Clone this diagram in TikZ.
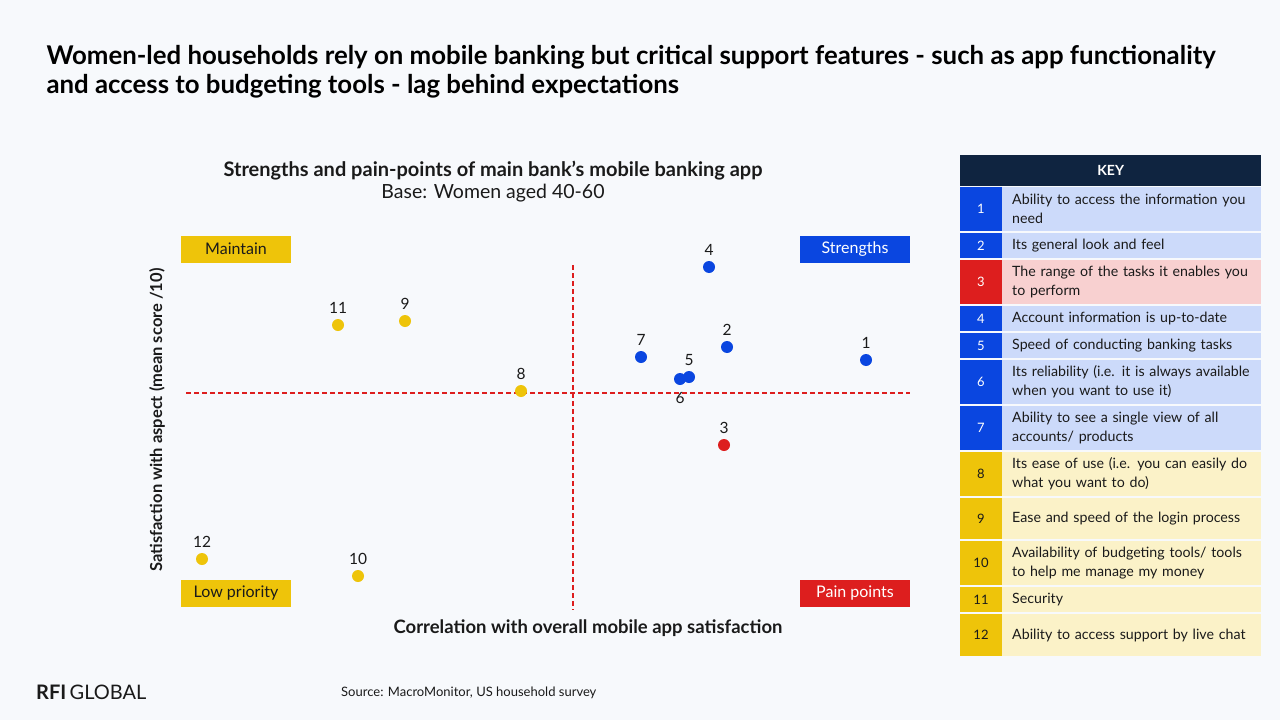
\documentclass[tikz,border=0pt]{standalone}
\usepackage{fontspec}
\setmainfont{Lato}
\definecolor{bg}{HTML}{F7F9FC}
\definecolor{navy}{HTML}{0F2440}
\definecolor{kblue}{HTML}{0A46E0}
\definecolor{kred}{HTML}{DD1E1E}
\definecolor{kyel}{HTML}{EEC40A}
\definecolor{lblue}{HTML}{CCDAFA}
\definecolor{lred}{HTML}{F8D0D0}
\definecolor{lyel}{HTML}{FBF2C8}
\definecolor{ink}{HTML}{1A1A1A}
\hyphenpenalty=10000
\begin{document}
\begin{tikzpicture}[x=1pt,y=-1pt,
  quad/.style={minimum width=110pt,minimum height=27pt,inner sep=0pt,font=\fontsize{16}{16}\selectfont},
  dot/.style={circle,inner sep=0pt,minimum size=12pt},
  num/.style={font=\fontsize{15.5}{15.5}\selectfont,text=ink},
  divider/.style={draw=kred,line width=1.1pt,dash pattern=on 5pt off 3pt},
  keytxt/.style={text width=246pt,align=left,anchor=west,inner sep=0pt,font=\fontsize{14.2}{19}\selectfont,text=ink}]

\fill[bg] (0,0) rectangle (1280,720);

%% title
\node[anchor=north west,align=left,text=black,font=\fontsize{25.8}{29}\selectfont\bfseries] (title) at (43,42)
  {Women-led households rely on mobile banking but critical support features - such as app functionality\\and access to budgeting tools - lag behind expectations};
\node[font=\fontsize{20}{20}\selectfont\bfseries,text=ink] (ctitle) at (493,171) {Strengths and pain-points of main bank's mobile banking app};
\node[font=\fontsize{19.5}{19.5}\selectfont,text=ink] (cbase) at (493,193) {Base: Women aged 40-60};

%% axes
\draw[divider] (573,265) -- (573,610);
\draw[divider] (186,393) -- (910,393);
\node[rotate=90,font=\fontsize{16.5}{16.5}\selectfont\bfseries,text=ink] (ylab) at (157,420) {Satisfaction with aspect (mean score /10)};
\node[font=\fontsize{18.5}{18.5}\selectfont\bfseries,text=ink] (xlab) at (588,628) {Correlation with overall mobile app satisfaction};

%% quadrants
\node[quad,fill=kyel,text=ink] (maintain) at (236,249) {Maintain};
\node[quad,fill=kblue,text=white] (strengths) at (855,249) {Strengths};
\node[quad,fill=kyel,text=ink] (lowprio) at (236,593) {Low priority};
\node[quad,fill=kred,text=white] (pain) at (855,593) {Pain points};

%% points
\foreach \n/\x/\y/\c in {1/866/360/kblue,2/727/347/kblue,3/724/445/kred,4/709/267/kblue,5/689/377/kblue,
  7/641/357/kblue,8/521/391/kyel,9/405/321/kyel,10/358/576/kyel,11/338/325/kyel,12/202/559/kyel}
  \node[dot,fill=\c,label={[num,yshift=2pt]above:\n}] (p\n) at (\x,\y) {};
\node[dot,fill=kblue,label={[num,yshift=-4pt]below:6}] (p6) at (680,379) {};

%% key
\node[fill=navy,text=white,minimum width=301pt,minimum height=31pt,inner sep=0pt,anchor=north west,font=\fontsize{14}{14}\selectfont\bfseries] (key) at (960,155) {KEY};
\foreach \n/\ya/\yb/\c/\l/\tc/\t in {
  1/186/232/kblue/lblue/white/{Ability to access the information you need},
  2/232/259/kblue/lblue/white/{Its general look and feel},
  3/259/305/kred/lred/white/{The range of the tasks it enables you to perform},
  4/305/332/kblue/lblue/white/{Account information is up-to-date},
  5/332/359/kblue/lblue/white/{Speed of conducting banking tasks},
  6/359/405/kblue/lblue/white/{Its reliability (i.e. it is always available when you want to use it)},
  7/405/451/kblue/lblue/white/{Ability to see a single view of all accounts/ products},
  8/451/497/kyel/lyel/ink/{Its ease of use (i.e. you can easily do what you want to do)},
  9/497/540/kyel/lyel/ink/{Ease and speed of the login process},
  10/540/586/kyel/lyel/ink/{Availability of budgeting tools/ tools to help me manage my money},
  11/586/613/kyel/lyel/ink/{Security},
  12/613/657/kyel/lyel/ink/{Ability to access support by live chat}}{
  \fill[\c] (960,\ya+1) rectangle (1002,\yb-1);
  \fill[\l] (1002,\ya+1) rectangle (1261,\yb-1);
  \node[text=\tc,font=\fontsize{13}{13}\selectfont] (kl\n) at (981,{(\ya+\yb)/2}) {\n};
  \node[keytxt] (kt\n) at (1012,{(\ya+\yb)/2}) {\t};
}

%% footer
\node[anchor=west,inner sep=0pt,font=\fontsize{20}{20}\selectfont,text=ink] (logo) at (36,692) {\textbf{RFI}\,GLOBAL};
\node[anchor=west,inner sep=0pt,font=\fontsize{13}{13}\selectfont,text=ink] (source) at (341,693) {Source: MacroMonitor, US household survey};
\end{tikzpicture}
\end{document}
